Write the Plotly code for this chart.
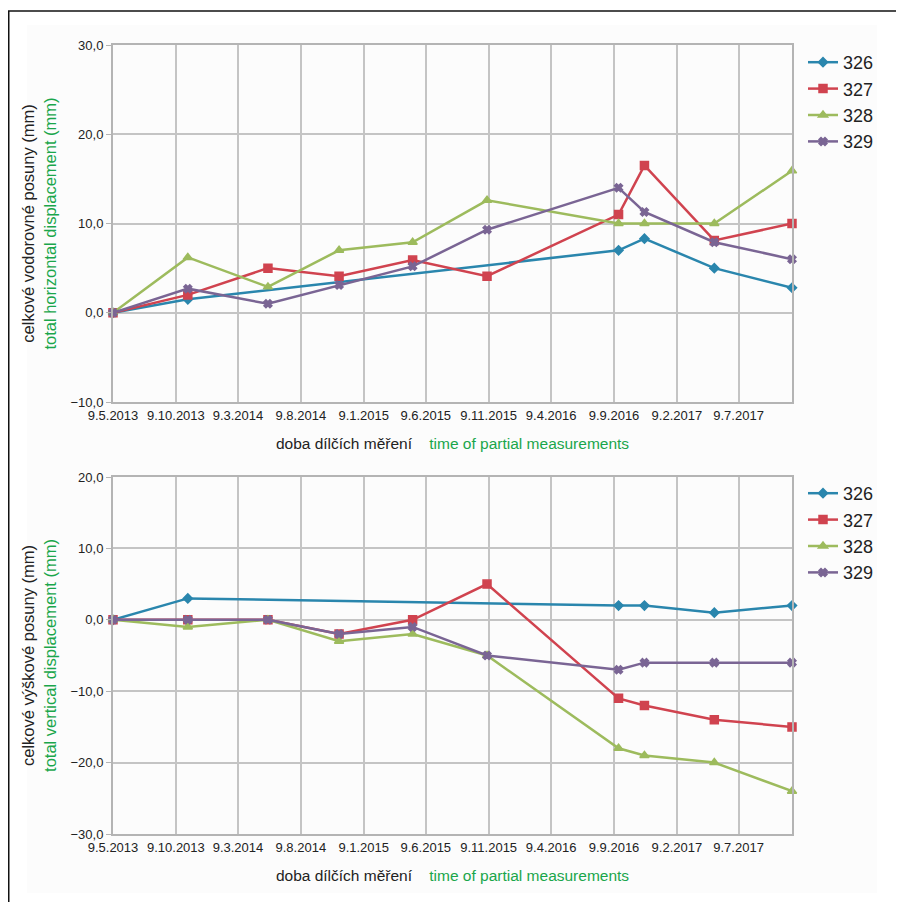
import plotly.graph_objects as go
from plotly.subplots import make_subplots

# page body has an 8px margin, so the figure is 8px smaller and offset
OFF = 8
W, H = 904 - OFF, 902 - OFF


def px(x):
    return (x - OFF) / W


def py(y):
    return 1 - (y - OFF) / H


dates = ["2013-05-09", "2013-11-07", "2014-05-21", "2014-11-10", "2015-05-08",
         "2015-11-05", "2016-09-20", "2016-11-22", "2017-05-11", "2017-11-16"]

tick_vals = ["2013-05-09", "2013-10-09", "2014-03-09", "2014-08-09", "2015-01-09",
             "2015-06-09", "2015-11-09", "2016-04-09", "2016-09-09", "2017-02-09",
             "2017-07-09"]
tick_text = ["9.5.2013", "9.10.2013", "9.3.2014", "9.8.2014", "9.1.2015",
             "9.6.2015", "9.11.2015", "9.4.2016", "9.9.2016", "9.2.2017", "9.7.2017"]

names = ["326", "327", "328", "329"]

# horizontal displacement (mm)
h326 = [0.0, 1.5, None, None, None, None, 7.0, 8.3, 5.0, 2.8]
h327 = [0.0, 2.0, 5.0, 4.1, 5.9, 4.1, 11.0, 16.5, 8.1, 10.0]
h328 = [0.0, 6.2, 2.9, 7.0, 7.9, 12.6, 10.0, 10.0, 10.0, 15.9]
h329 = [0.0, 2.7, 1.0, 3.1, 5.2, 9.3, 14.0, 11.3, 7.9, 6.0]

# vertical displacement (mm)
v326 = [0.0, 3.0, None, None, None, None, 2.0, 2.0, 1.0, 2.0]
v327 = [0.0, 0.0, 0.0, -2.0, 0.0, 5.0, -11.0, -12.0, -14.0, -15.0]
v328 = [0.0, -1.0, 0.0, -3.0, -2.0, -5.0, -18.0, -19.0, -20.0, -24.0]
v329 = [0.0, 0.0, 0.0, -2.0, -1.0, -5.0, -7.0, -6.0, -6.0, -6.0]

colors = ["#2a86ad", "#d0434f", "#9dbb5d", "#7a6594"]
symbols = ["diamond", "square", "triangle-up", "x"]
msizes = [7, 8, 8, 7]

GREEN = "#1aa64b"
FONT = "Liberation Sans Narrow, Arial Narrow, Arial, Liberation Sans, sans-serif"

fig = make_subplots(rows=2, cols=1)

for i, (name, ys) in enumerate(zip(names, [h326, h327, h328, h329])):
    fig.add_trace(go.Scatter(
        x=dates, y=ys, name=name, mode="lines+markers", connectgaps=True,
        line=dict(color=colors[i], width=2.5),
        marker=dict(symbol=symbols[i], size=msizes[i], color=colors[i],
                    line=dict(width=1.5, color=colors[i])),
        cliponaxis=False, legend="legend"), row=1, col=1)

for i, (name, ys) in enumerate(zip(names, [v326, v327, v328, v329])):
    fig.add_trace(go.Scatter(
        x=dates, y=ys, name=name, mode="lines+markers", connectgaps=True,
        line=dict(color=colors[i], width=2.5),
        marker=dict(symbol=symbols[i], size=msizes[i], color=colors[i],
                    line=dict(width=1.5, color=colors[i])),
        cliponaxis=False, legend="legend2"), row=2, col=1)

xd = [px(113), px(792)]
top_dom = [py(402), py(45)]
bot_dom = [py(834), py(477)]

grid = "#c4c4c4"
axis_common = dict(showgrid=True, gridcolor=grid, gridwidth=2, showline=True,
                   linecolor="#b4b4b4", linewidth=2, mirror=True, zeroline=False,
                   automargin=False, tickfont=dict(size=13, color="#222222", family=FONT))

xtitle = ("doba dílčích měření\u00a0\u00a0\u00a0\u00a0"
          f"<span style='color:{GREEN}'>time of partial measurements</span>")

fig.update_xaxes(type="date", range=[dates[0], dates[-1]], domain=xd,
                 tickmode="array", tickvals=tick_vals, ticktext=tick_text,
                 ticks="", title=dict(text=xtitle, font=dict(size=15.5, color="#222222", family=FONT), standoff=17),
                 **axis_common)
fig.update_yaxes(tickformat=".1f", dtick=10, ticks="outside", ticklen=5, tickcolor="#b4b4b4",
                 **axis_common)
fig.update_yaxes(range=[-10, 30], domain=top_dom, row=1, col=1,
                 title=dict(text="celkové vodorovné posuny (mm)<br>"
                                 f"<span style='color:{GREEN}'>total horizontal displacement (mm)</span>",
                            font=dict(size=16.5, color="#222222", family=FONT), standoff=10))
fig.update_yaxes(range=[-30, 20], domain=bot_dom, row=2, col=1,
                 title=dict(text="celkové výškové posuny (mm)<br>"
                                 f"<span style='color:{GREEN}'>total vertical displacement (mm)</span>",
                            font=dict(size=16.5, color="#222222", family=FONT), standoff=10))

legend_common = dict(font=dict(size=18, color="#222222", family=FONT), bgcolor="rgba(0,0,0,0)",
                     xanchor="left", yanchor="top", x=px(803))
fig.update_layout(
    width=W, height=H, margin=dict(l=0, r=0, t=0, b=0),
    paper_bgcolor="white", plot_bgcolor="white", separators=", ",
    font=dict(family=FONT),
    legend=dict(y=py(44), **legend_common),
    legend2=dict(y=py(475), **legend_common),
    shapes=[
        dict(type="rect", xref="paper", yref="paper", x0=px(27), x1=px(877),
             y0=py(893), y1=py(25), fillcolor="#fcfcfc", line=dict(width=0), layer="below"),
        dict(type="line", xref="paper", yref="paper", x0=px(8.75), x1=px(8.75),
             y0=0, y1=py(11), line=dict(color="#111111", width=1.5)),
        dict(type="line", xref="paper", yref="paper", x0=px(8), x1=1,
             y0=py(11), y1=py(11), line=dict(color="#111111", width=1.5)),
    ],
)

fig.write_html("out.html")
